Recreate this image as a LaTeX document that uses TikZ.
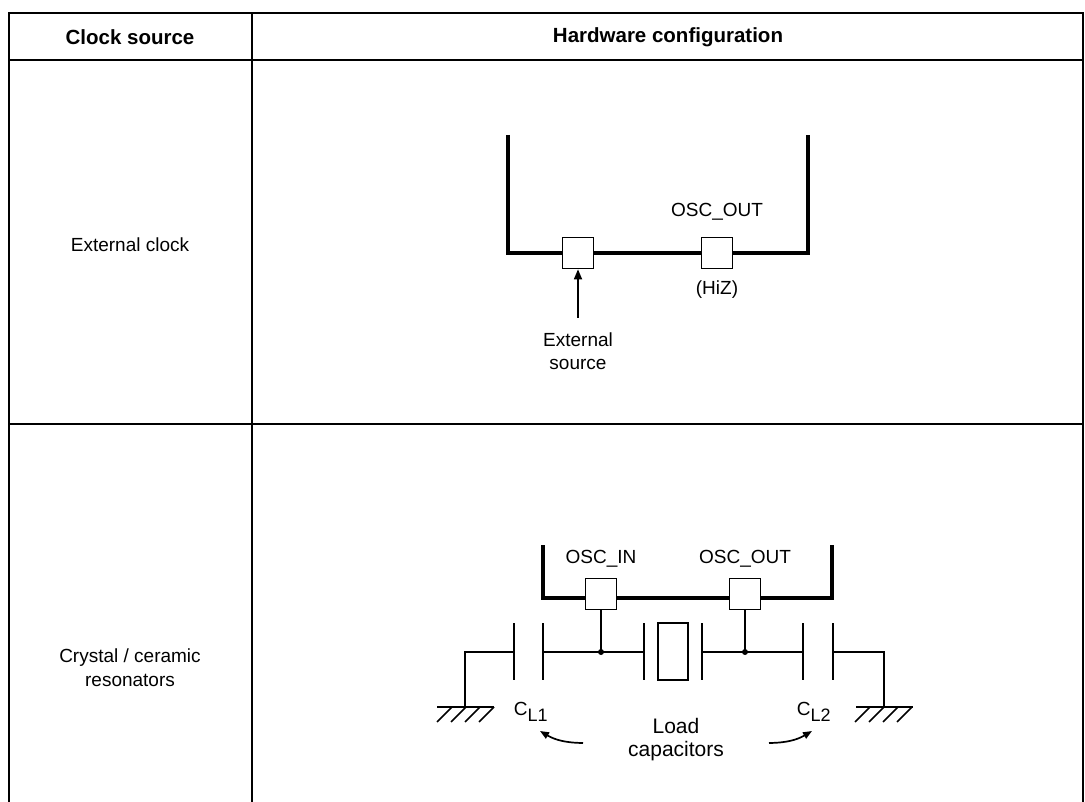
\documentclass[tikz,border=0pt]{standalone}
\usepackage{fontspec}
\setmainfont{Liberation Sans}
\usetikzlibrary{arrows.meta}
\begin{document}
\begin{tikzpicture}[x=1pt,y=-1pt,
  lbl/.style={font=\fontsize{19}{22}\selectfont, align=center, inner sep=0pt},
  hdr/.style={font=\fontsize{20.5}{24}\selectfont\bfseries, inner sep=0pt},
  small/.style={font=\fontsize{21}{23}\selectfont, align=center, inner sep=0pt},
  grid/.style={line width=1.5pt},
  chip/.style={line width=3.3pt},
  wire/.style={line width=1.7pt},
  pad/.style={draw, fill=white, line width=1.7pt, minimum size=31pt, inner sep=0pt},
  gnd/.style={wire}]
\useasboundingbox (0,0) rectangle (1085,802);
% table
\draw[grid] (1083,802) -- (1083,13) -- (9,13) -- (9,802);
\draw[grid] (9,60) -- (1083,60);
\draw[grid] (9,424) -- (1083,424);
\draw[grid] (252,13) -- (252,802);
\node[hdr] (h1) at (130,37) {Clock source};
\node[hdr] (h2) at (668,37) {Hardware configuration};
\node[lbl] (r1) at (130,245) {External clock};
\node[lbl] (r2) at (130,668) {Crystal / ceramic\\[2pt]resonators};
% External clock
\draw[chip] (508,135) -- (508,253) -- (808,253) -- (808,135);
\node[pad] (p1) at (578,253) {};
\node[pad] (p2) at (717,253) {};
\node[lbl] (oscout1) at (717,212) {OSC\_OUT};
\node[lbl] (hiz) at (717,290) {(HiZ)};
\coordinate (src) at (578,318);
\draw[wire,-{Triangle[length=10pt,width=8pt]}] (src) -- (p1.south);
\node[lbl] (ext) at (578,351) {External\\[1pt]source};
% Crystal
\draw[chip] (543,545) -- (543,598) -- (832,598) -- (832,545);
\node[pad] (q1) at (601,594) {};
\node[pad] (q2) at (745,594) {};
\node[lbl] (oscin) at (601,559) {OSC\_IN};
\node[lbl] (oscout2) at (745,559) {OSC\_OUT};
\coordinate (j1) at (601,652);
\coordinate (j2) at (745,652);
\draw[wire] (q1.south) -- (j1);
\draw[wire] (q2.south) -- (j2);
\fill (j1) circle (3pt);
\fill (j2) circle (3pt);
% wires
\draw[wire] (465,707) -- (465,652) -- (514,652);
\draw[wire] (543,652) -- (644,652);
\draw[wire] (702,652) -- (803,652);
\draw[wire] (833,652) -- (884,652) -- (884,707);
% plates
\foreach \x in {514,543,644,702,803,833} \draw[wire] (\x,623) -- (\x,680);
\draw[wire] (658,623) rectangle (688,680);
% grounds
\draw[gnd] (437,707) -- (494,707);
\foreach \x in {452,466,480,494} \draw[wire] (\x,707) -- (\x-15,722);
\draw[gnd] (856,707) -- (913,707);
\foreach \x in {870,884,898,912} \draw[wire] (\x,707) -- (\x-15,722);
\node[lbl] (cl1) at (531,712) {C\textsubscript{\fontsize{18}{20}\selectfont L1}};
\node[lbl] (cl2) at (814,712) {C\textsubscript{\fontsize{18}{20}\selectfont L2}};
\node[small] (load) at (676,740) {Load\\[0pt]capacitors};
\coordinate (a1) at (583,743);
\coordinate (a2) at (769,743);
\coordinate (t1) at (540,731);
\coordinate (t2) at (812,731);
\draw[wire,-{Triangle[length=9pt,width=7pt]}] (a1) to[bend left=15] (t1);
\draw[wire,-{Triangle[length=9pt,width=7pt]}] (a2) to[bend right=15] (t2);
\end{tikzpicture}
\end{document}
